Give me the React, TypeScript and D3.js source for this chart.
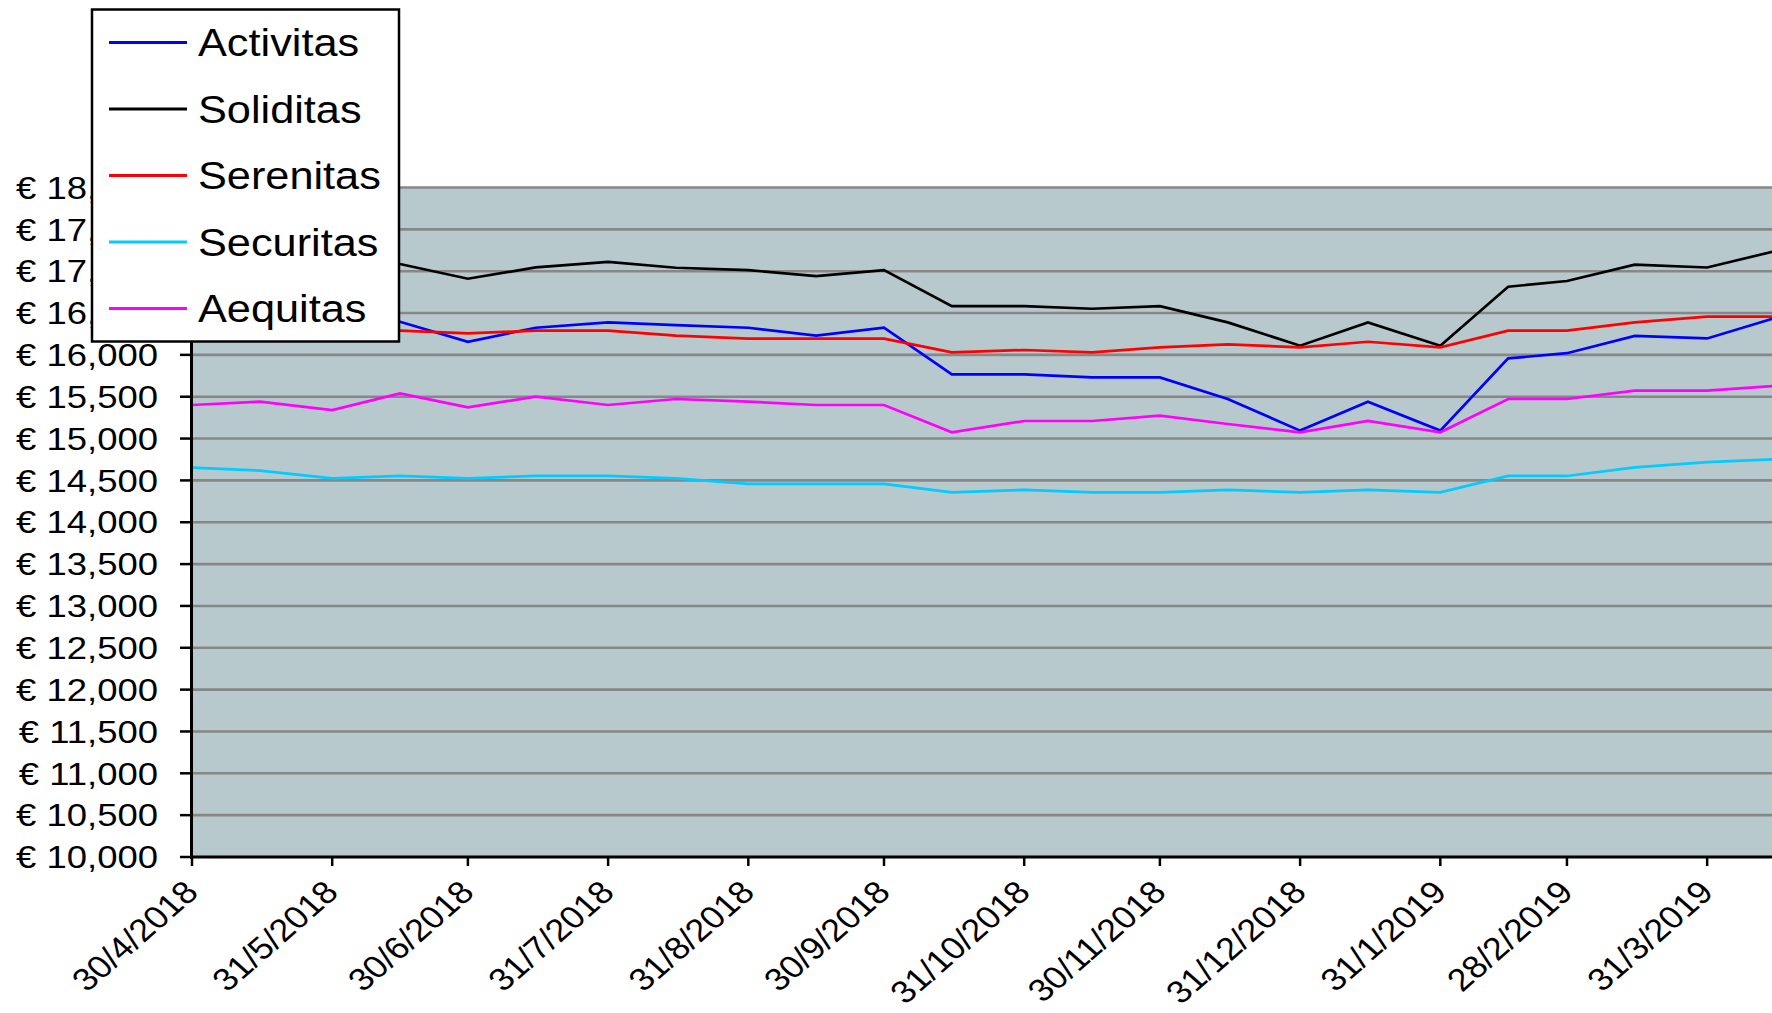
import React from "react";
import * as d3 from "d3";

const dateLabels = [
  "30/4/2018", "15/5/2018", "31/5/2018", "15/6/2018", "30/6/2018", "15/7/2018",
  "31/7/2018", "15/8/2018", "31/8/2018", "15/9/2018", "30/9/2018", "15/10/2018",
  "31/10/2018", "15/11/2018", "30/11/2018", "15/12/2018", "31/12/2018", "15/1/2019",
  "31/1/2019", "15/2/2019", "28/2/2019", "15/3/2019", "31/3/2019", "15/4/2019",
];

const activitas = [16166, 16310, 16370, 16396, 16157, 16324, 16388, 16356, 16324, 16229, 16324, 15767, 15767, 15731, 15731, 15473, 15095, 15441, 15095, 15958, 16020, 16227, 16196, 16440];
const soliditas = [17100, 17150, 17060, 17086, 16910, 17045, 17112, 17041, 17013, 16941, 17013, 16583, 16583, 16551, 16583, 16388, 16110, 16388, 16110, 16814, 16883, 17078, 17044, 17240];
const serenitas = [16250, 16280, 16300, 16289, 16257, 16289, 16289, 16229, 16193, 16193, 16193, 16030, 16058, 16030, 16090, 16125, 16090, 16157, 16090, 16289, 16289, 16389, 16456, 16456];
const securitas = [14653, 14617, 14525, 14553, 14525, 14553, 14553, 14525, 14458, 14458, 14458, 14358, 14386, 14358, 14358, 14386, 14358, 14386, 14358, 14553, 14553, 14655, 14718, 14752];
const aequitas = [15401, 15441, 15341, 15540, 15373, 15501, 15401, 15473, 15441, 15401, 15401, 15075, 15210, 15210, 15274, 15174, 15075, 15210, 15075, 15473, 15473, 15572, 15572, 15630];

const seriesNames = ["Activitas", "Soliditas", "Serenitas", "Securitas", "Aequitas"];
const seriesColors = ["#0000FF", "#000000", "#FF0000", "#00CCFF", "#FF00FF"];
const seriesValues = [activitas, soliditas, serenitas, securitas, aequitas];

const tickLabels = [
  "30/4/2018", "31/5/2018", "30/6/2018", "31/7/2018", "31/8/2018", "30/9/2018",
  "31/10/2018", "30/11/2018", "31/12/2018", "31/1/2019", "28/2/2019", "31/3/2019",
];

const yTicks = [10000, 10500, 11000, 11500, 12000, 12500, 13000, 13500, 14000, 14500, 15000, 15500, 16000, 16500, 17000, 17500, 18000];

const W = 1772;
const H = 1013;
const FONT = "'Liberation Sans', Arial, sans-serif";

export default function App() {
  const parse = d3.utcParse("%d/%m/%Y");
  const dates = dateLabels.map((s) => parse(s) as Date);
  const x = d3.scaleUtc().domain([dates[0], dates[dates.length - 1]]).range([192, 1775]);
  const y = d3.scaleLinear().domain([10000, 18000]).range([857, 187.5]);
  const fmt = d3.format(",");

  const line = d3
    .line<number>()
    .x((_, i) => x(dates[i]))
    .y((d) => y(d));

  const left = 191.5;
  const bottom = y(10000);
  const top = y(18000);

  return (
    <svg
      width={W}
      height={H}
      style={{ position: "absolute", left: 0, top: 0, background: "#fff" }}
      fontFamily={FONT}
    >
      <rect x={left} y={top} width={W - left} height={bottom - top} fill="#B8C9CD" />
      {yTicks.slice(1).map((v) => (
        <line key={"g" + v} x1={left} x2={W} y1={y(v)} y2={y(v)} stroke="#878787" strokeWidth={2.6} />
      ))}
      <g>
        {seriesValues.map((vals, k) => (
          <path key={seriesNames[k]} d={line(vals) || ""} fill="none" stroke={seriesColors[k]} strokeWidth={2.7} strokeLinejoin="miter" />
        ))}
      </g>
      {/* axes */}
      <line x1={left} x2={left} y1={top - 1} y2={bottom + 1.5} stroke="#000" strokeWidth={3} />
      <line x1={left - 1.5} x2={W} y1={bottom} y2={bottom} stroke="#000" strokeWidth={3} />
      {yTicks.map((v) => (
        <g key={"yt" + v}>
          <line x1={180} x2={left} y1={y(v)} y2={y(v)} stroke="#000" strokeWidth={2.5} />
          <text
            transform={`translate(158,${y(v)}) scale(1.14,1)`}
            textAnchor="end"
            dy="0.35em"
            fontSize={32}
            fill="#000"
          >
            {"€ " + fmt(v)}
          </text>
        </g>
      ))}
      {tickLabels.map((lab) => {
        const xv = x(parse(lab) as Date);
        return (
          <g key={"xt" + lab}>
            <line x1={xv} x2={xv} y1={bottom} y2={bottom + 9} stroke="#000" strokeWidth={2.5} />
            <text
              transform={`translate(${xv + 8},894) scale(1.14,1) rotate(-45)`}
              textAnchor="end"
              fontSize={31.5}
              fill="#000"
            >
              {lab}
            </text>
          </g>
        );
      })}
      {/* legend */}
      <rect x={92} y={9.5} width={307} height={332} fill="#fff" stroke="#000" strokeWidth={2.5} />
      {seriesNames.map((name, k) => {
        const ly = 42.5 + k * 66.5;
        return (
          <g key={"lg" + name}>
            <line x1={109} x2={187} y1={ly} y2={ly} stroke={seriesColors[k]} strokeWidth={3} />
            <text transform={`translate(198,${ly + 13.5}) scale(1.11,1)`} fontSize={39} fill="#000">
              {name}
            </text>
          </g>
        );
      })}
    </svg>
  );
}
